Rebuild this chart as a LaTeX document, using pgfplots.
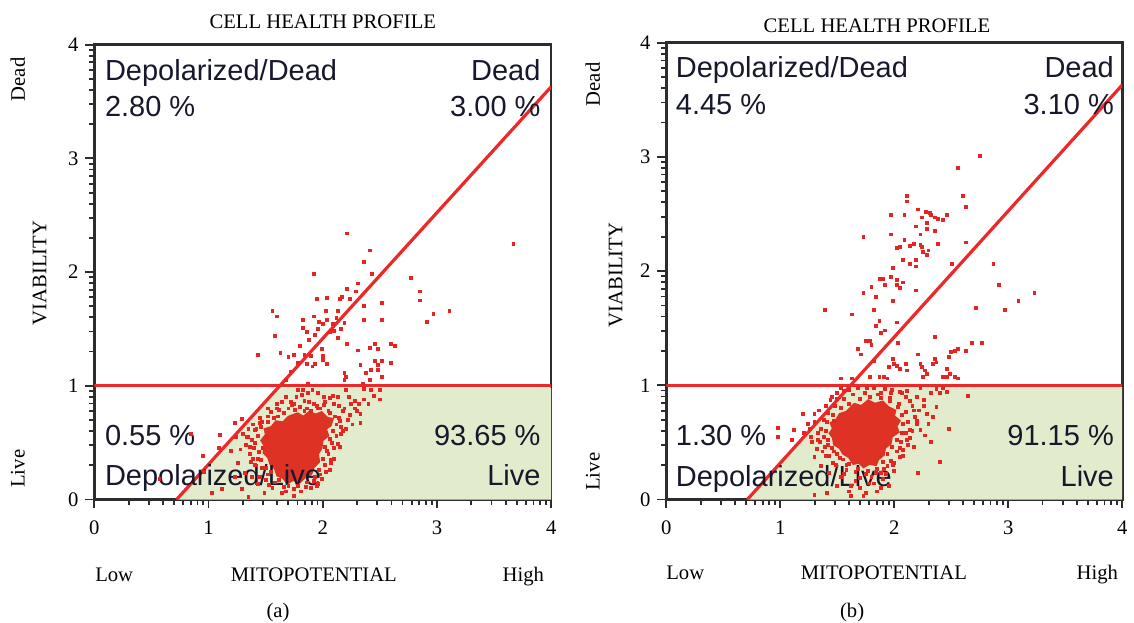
\documentclass[border=0pt]{standalone}
\usepackage{pgfplots}
\usepackage{pgfplotstable}
\pgfplotsset{compat=1.18}
\usepackage{fontspec}
\setmainfont{Liberation Serif}
\newfontfamily\qfont{Liberation Sans}
\definecolor{ptred}{RGB}{232,36,34}
\definecolor{corered}{RGB}{221,50,36}
\definecolor{linered}{RGB}{236,40,40}
\definecolor{livegreen}{RGB}{226,236,204}
\definecolor{qtext}{RGB}{24,24,44}
\definecolor{frame}{RGB}{45,45,45}

% ---------------- panel (a) data ----------------
\pgfplotstableread{
x y
2.21 2.34
2.41 2.19
2.36 2.09
1.92 1.98
2.43 1.98
2.77 1.95
2.31 1.90
2.85 1.83
2.85 1.75
2.21 1.85
2.29 1.83
2.17 1.78
2.15 1.76
1.95 1.76
2.04 1.77
2.24 1.76
2.36 1.70
2.52 1.73
1.56 1.66
1.60 1.61
2.97 1.63
3.11 1.66
2.91 1.56
1.83 1.58
1.92 1.61
1.97 1.56
2.00 1.54
2.04 1.58
2.09 1.54
2.12 1.60
2.13 1.66
2.03 1.66
1.83 1.51
1.86 1.47
1.93 1.45
1.96 1.50
2.06 1.47
2.10 1.48
2.16 1.50
2.19 1.55
2.36 1.58
2.52 1.58
1.58 1.44
2.13 1.42
2.21 1.37
2.46 1.37
2.48 1.32
2.60 1.37
2.63 1.35
2.31 1.31
2.41 1.33
1.99 1.32
1.43 1.27
1.63 1.29
1.70 1.25
1.75 1.27
1.84 1.27
1.90 1.26
2.00 1.26
2.00 1.23
1.86 1.19
1.91 1.17
1.93 1.19
2.04 1.19
2.33 1.18
2.46 1.22
2.48 1.18
2.52 1.22
2.60 1.20
2.42 1.14
2.48 1.14
2.38 1.11
2.19 1.11
2.20 1.08
2.19 1.05
2.41 1.05
2.35 1.02
2.52 1.08
1.87 1.02
3.67 2.25
1.72 1.12
1.78 1.20
1.68 1.05
1.80 1.35
1.88 1.40
0.85 0.58
0.57 0.18
1.09 0.45
0.96 0.24
1.24 0.55
0.95 0.38
1.78 0.96
1.83 0.96
1.87 0.94
1.77 0.90
1.84 0.87
1.91 0.96
2.01 0.90
2.06 0.89
2.09 0.91
2.13 0.90
2.20 0.96
2.23 0.90
2.25 0.84
2.19 0.80
2.28 0.80
2.32 0.84
2.33 0.75
2.36 0.97
2.42 0.96
2.50 0.96
2.50 0.88
2.33 0.67
2.10 0.84
2.01 0.83
1.96 0.80
1.90 0.78
1.84 0.78
1.75 0.84
1.64 0.86
1.61 0.73
1.52 0.73
1.41 0.61
1.29 0.71
1.23 0.67
1.10 0.57
1.35 0.55
1.45 0.67
1.20 0.43
1.26 0.32
1.32 0.23
1.38 0.20
1.43 0.14
1.23 0.20
1.03 0.06
1.12 0.09
1.29 0.09
1.35 0.02
1.49 0.06
1.64 0.06
1.75 0.03
1.90 0.10
1.96 0.14
2.07 0.32
2.04 0.43
2.13 0.49
2.16 0.58
1.40 0.45
1.38 0.52
1.42 0.62
1.47 0.68
1.55 0.77
1.62 0.79
1.70 0.80
1.80 0.81
1.95 0.82
2.05 0.78
2.14 0.72
2.16 0.64
2.12 0.56
2.08 0.50
2.05 0.40
2.02 0.30
1.98 0.22
1.92 0.16
1.85 0.11
1.75 0.09
1.66 0.11
1.58 0.15
1.52 0.22
1.47 0.28
1.43 0.36
1.36 0.40
1.33 0.48
1.30 0.58
1.45 0.72
1.60 0.84
1.72 0.86
1.88 0.86
2.02 0.86
2.18 0.78
2.22 0.70
2.20 0.62
2.15 0.46
2.10 0.36
2.06 0.26
1.99 0.18
1.56 0.10
1.50 0.17
1.41 0.30
1.37 0.33
1.28 0.44
1.35 0.62
1.52 0.80
1.68 0.90
1.82 0.92
1.96 0.94
1.44 0.42
1.46 0.35
1.50 0.28
1.55 0.24
1.62 0.17
1.70 0.12
1.78 0.12
1.86 0.15
1.93 0.20
1.97 0.26
2.00 0.36
2.02 0.46
2.06 0.53
2.09 0.60
2.12 0.66
2.11 0.73
2.06 0.76
1.98 0.80
1.86 0.80
1.76 0.79
1.66 0.76
1.57 0.72
1.52 0.68
1.46 0.64
1.43 0.56
1.41 0.50
1.48 0.45
1.51 0.55
1.60 0.80
1.73 0.83
1.92 0.84
2.15 0.69
2.18 0.60
2.10 0.45
2.07 0.35
2.03 0.24
1.95 0.12
1.81 0.07
1.68 0.07
1.53 0.13
1.45 0.20
1.39 0.36
1.36 0.46
1.34 0.55
1.39 0.66
2.24 0.74
2.26 0.66
2.30 0.78
2.28 0.87
2.14 0.82
2.36 0.88
2.45 0.91
2.40 0.84
}\scatA

\pgfplotstableread{
x y
1.78 0.76
1.83 0.73
1.88 0.77
1.94 0.75
1.99 0.77
2.04 0.72
2.09 0.71
2.07 0.65
2.03 0.62
2.05 0.56
2.00 0.52
1.99 0.45
1.96 0.40
1.97 0.33
1.92 0.28
1.90 0.22
1.84 0.19
1.80 0.15
1.74 0.17
1.69 0.14
1.65 0.19
1.60 0.21
1.58 0.27
1.54 0.31
1.52 0.37
1.48 0.41
1.49 0.47
1.46 0.52
1.50 0.57
1.49 0.62
1.55 0.64
1.59 0.69
1.65 0.68
1.70 0.73
1.78 0.76
}\coreA

% ---------------- panel (b) data ----------------
\pgfplotstableread{
x y
2.75 3.01
2.56 2.90
2.11 2.66
2.11 2.61
2.60 2.66
2.63 2.56
2.21 2.54
1.97 2.49
2.09 2.49
2.24 2.47
2.28 2.52
2.31 2.51
2.32 2.49
2.36 2.47
2.38 2.46
2.43 2.45
2.46 2.49
2.29 2.42
2.19 2.39
2.29 2.37
2.36 2.35
1.97 2.32
2.23 2.32
1.73 2.30
2.09 2.27
2.05 2.21
2.02 2.20
2.14 2.22
2.17 2.24
2.23 2.23
2.24 2.21
2.25 2.17
2.29 2.14
2.30 2.18
2.38 2.24
2.63 2.25
2.19 2.10
2.19 2.04
2.14 2.06
2.08 2.10
1.99 2.03
2.51 2.06
2.87 2.06
1.87 1.93
1.90 1.93
1.92 1.88
1.97 1.95
2.02 1.92
2.02 1.88
2.08 1.90
2.05 1.85
2.19 1.83
2.92 1.88
3.23 1.81
3.09 1.74
2.97 1.66
2.72 1.68
1.73 1.81
1.80 1.86
1.84 1.77
1.99 1.74
1.39 1.66
1.63 1.62
1.82 1.66
1.87 1.56
1.84 1.52
1.92 1.48
1.88 1.46
2.02 1.55
2.36 1.42
1.75 1.39
1.79 1.39
1.80 1.35
1.68 1.32
1.71 1.27
2.03 1.37
2.68 1.37
2.77 1.37
2.63 1.30
2.21 1.27
2.48 1.25
2.50 1.29
2.53 1.30
2.56 1.32
2.36 1.23
2.37 1.20
2.34 1.19
1.99 1.23
2.00 1.19
1.95 1.16
2.02 1.17
2.05 1.14
2.10 1.19
2.11 1.13
2.23 1.19
2.24 1.16
2.27 1.13
2.29 1.10
2.25 1.07
2.46 1.14
2.49 1.10
2.46 1.07
2.43 1.07
2.53 1.07
2.56 1.06
1.82 1.21
1.87 1.07
1.91 1.07
1.94 1.06
1.79 1.07
1.53 1.06
1.63 1.06
2.65 0.91
2.48 0.62
2.32 0.50
2.40 0.33
2.21 0.23
2.29 0.75
2.34 0.72
2.37 0.81
2.40 0.93
2.46 0.94
2.32 0.93
2.26 0.87
2.20 0.90
2.11 0.95
2.05 0.94
2.23 0.98
2.37 0.97
2.43 0.98
2.17 0.78
2.20 0.69
2.14 0.61
2.23 0.61
2.11 0.52
2.08 0.43
2.05 0.37
2.17 0.46
1.30 0.75
1.24 0.66
1.21 0.58
1.27 0.55
1.33 0.52
1.39 0.46
1.44 0.87
1.50 0.93
1.53 0.98
1.56 0.95
1.47 0.69
1.20 0.75
1.12 0.61
1.10 0.52
0.98 0.63
0.98 0.55
1.30 0.37
1.36 0.29
1.43 0.23
1.53 0.20
1.41 0.06
1.30 0.04
1.62 0.03
1.73 0.03
1.82 0.14
1.88 0.23
1.94 0.29
2.00 0.32
1.68 0.98
1.76 0.98
1.82 0.98
1.88 0.93
1.97 0.93
1.38 0.55
1.36 0.62
1.38 0.70
1.42 0.76
1.48 0.82
1.56 0.88
1.64 0.92
1.74 0.93
1.86 0.92
1.96 0.89
2.04 0.84
2.10 0.77
2.12 0.68
2.10 0.58
2.06 0.50
2.02 0.42
1.97 0.34
1.91 0.27
1.84 0.23
1.75 0.22
1.66 0.24
1.58 0.30
1.52 0.36
1.47 0.42
1.42 0.48
1.30 0.68
1.34 0.78
1.45 0.90
1.60 0.96
1.92 0.97
2.10 0.90
2.16 0.82
2.18 0.72
2.16 0.60
2.12 0.48
2.08 0.38
2.00 0.25
1.90 0.18
1.78 0.14
1.66 0.16
1.56 0.22
1.46 0.32
1.40 0.38
1.33 0.58
1.70 0.10
1.60 0.07
1.85 0.07
1.50 0.12
1.95 0.12
1.42 0.52
1.45 0.45
1.50 0.40
1.55 0.35
1.60 0.31
1.68 0.27
1.77 0.25
1.85 0.27
1.90 0.33
1.94 0.40
1.98 0.46
2.02 0.52
2.07 0.58
2.08 0.66
2.07 0.74
2.03 0.81
1.96 0.86
1.88 0.89
1.79 0.90
1.70 0.88
1.60 0.84
1.53 0.80
1.46 0.74
1.41 0.68
1.40 0.60
1.35 0.50
1.32 0.44
1.37 0.42
1.43 0.38
1.49 0.30
1.58 0.26
1.70 0.19
1.80 0.20
1.93 0.22
1.99 0.30
2.05 0.45
2.14 0.54
2.20 0.66
2.22 0.78
2.14 0.86
2.07 0.93
1.98 0.96
2.26 0.82
2.30 0.66
2.27 0.56
1.50 0.88
1.40 0.82
1.26 0.62
1.28 0.50
1.62 0.12
1.75 0.06
1.88 0.10
}\scatB

\pgfplotstableread{
x y
1.65 0.84
1.71 0.82
1.77 0.87
1.83 0.84
1.90 0.86
1.95 0.81
2.01 0.78
2.00 0.73
2.05 0.69
2.02 0.64
2.04 0.59
1.98 0.55
1.97 0.49
1.92 0.45
1.91 0.39
1.86 0.35
1.84 0.30
1.78 0.31
1.73 0.28
1.69 0.32
1.64 0.31
1.60 0.37
1.55 0.40
1.52 0.45
1.47 0.48
1.46 0.54
1.43 0.58
1.46 0.62
1.44 0.67
1.49 0.70
1.52 0.75
1.58 0.77
1.65 0.84
}\coreB

\pgfplotsset{
  cellplot/.style={
    scale only axis,
    xmin=0, xmax=4, ymin=0, ymax=4,
    xtick={0,1,2,3,4}, ytick={0,1,2,3,4},
    minor xtick={0.301,0.477,0.602,0.699,0.778,0.845,0.903,0.954,
                 1.301,1.477,1.602,1.699,1.778,1.845,1.903,1.954,
                 2.301,2.477,2.602,2.699,2.778,2.845,2.903,2.954,
                 3.301,3.477,3.602,3.699,3.778,3.845,3.903,3.954},
    minor ytick={0.301,0.477,0.602,0.699,0.778,0.845,0.903,0.954,
                 1.301,1.477,1.602,1.699,1.778,1.845,1.903,1.954,
                 2.301,2.477,2.602,2.699,2.778,2.845,2.903,2.954,
                 3.301,3.477,3.602,3.699,3.778,3.845,3.903,3.954},
    xtick pos=left, ytick pos=left,
    tick align=outside,
    major tick length=4.5pt, minor tick length=2.6pt,
    every tick/.style={frame, line width=0.9pt},
    axis line style={frame, line width=1.3pt},
    /pgf/number format/assume math mode=true,
    ticklabel style={font=\fontsize{10.4}{12}\selectfont, text=black},
    xticklabel style={yshift=-2.5pt},
    clip=true,
  },
  pts/.style={only marks, mark=square*, mark size=0.72pt, color=ptred,
    mark options={solid, draw=ptred, fill=ptred, line width=0pt}},
}
\tikzset{
  qlab/.style={inner sep=0pt, text=qtext, font=\fontsize{14.6}{17}\qfont},
  lab/.style={font=\fontsize{10.4}{12}\selectfont, inner sep=0pt},
}

\begin{document}
\begin{tikzpicture}

% ================= panel (a) =================
\begin{axis}[cellplot, width=230pt, height=229pt,
  at={(47.5pt,60.5pt)}, anchor=south west]
\addplot[draw=none, fill=livegreen] coordinates {(0.72,0) (1.629,0.985) (4,0.985) (4,0) (0.72,0)};
\addplot[pts] table[x=x,y=y] {\scatA};
\addplot[draw=corered, fill=corered, line width=0.8pt] table[x=x,y=y] {\coreA};
\addplot[linered, line width=1.6pt] coordinates {(0.72,0) (4,3.63)};
\addplot[linered, line width=1.6pt] coordinates {(0,1) (4,1)};
\node[qlab, anchor=north west] at (axis cs:0.09,3.87) {Depolarized/Dead};
\node[qlab, anchor=north west] at (axis cs:0.09,3.55) {2.80 \%};
\node[qlab, anchor=north east] at (axis cs:3.91,3.87) {Dead};
\node[qlab, anchor=north east] at (axis cs:3.91,3.55) {3.00 \%};
\node[qlab, anchor=north west] at (axis cs:0.09,0.655) {0.55 \%};
\node[qlab, anchor=north west] at (axis cs:0.09,0.31) {Depolarized/Live};
\node[qlab, anchor=north east] at (axis cs:3.91,0.655) {93.65 \%};
\node[qlab, anchor=north east] at (axis cs:3.91,0.31) {Live};
\end{axis}

% ================= panel (b) =================
\begin{axis}[cellplot, width=229.5pt, height=230pt,
  at={(335.5pt,60.5pt)}, anchor=south west]
\addplot[draw=none, fill=livegreen] coordinates {(0.71,0) (1.605,0.985) (4,0.985) (4,0) (0.71,0)};
\addplot[pts] table[x=x,y=y] {\scatB};
\addplot[draw=corered, fill=corered, line width=0.8pt] table[x=x,y=y] {\coreB};
\addplot[linered, line width=1.6pt] coordinates {(0.71,0) (4,3.63)};
\addplot[linered, line width=1.6pt] coordinates {(0,1) (4,1)};
\node[qlab, anchor=north west] at (axis cs:0.08,3.88) {Depolarized/Dead};
\node[qlab, anchor=north west] at (axis cs:0.08,3.55) {4.45 \%};
\node[qlab, anchor=north east] at (axis cs:3.93,3.88) {Dead};
\node[qlab, anchor=north east] at (axis cs:3.93,3.55) {3.10 \%};
\node[qlab, anchor=north west] at (axis cs:0.08,0.65) {1.30 \%};
\node[qlab, anchor=north west] at (axis cs:0.08,0.30) {Depolarized/Live};
\node[qlab, anchor=north east] at (axis cs:3.93,0.65) {91.15 \%};
\node[qlab, anchor=north east] at (axis cs:3.93,0.30) {Live};
\end{axis}

% ---------- outer texts (a) ----------
\node[lab, anchor=base] at (162.5pt,297.5pt) {CELL HEALTH PROFILE};
\node[lab, rotate=90] at (9pt,272pt) {Dead};
\node[lab, rotate=90] at (20pt,174.5pt) {VIABILITY};
\node[lab, rotate=90] at (9pt,76pt) {Live};
\node[lab, anchor=base] at (57.5pt,19pt) {Low};
\node[lab, anchor=base] at (158pt,19pt) {MITOPOTENTIAL};
\node[lab, anchor=base] at (263.5pt,19pt) {High};
\node[lab, anchor=base] at (140pt,1pt) {(a)};
% ---------- outer texts (b) ----------
\node[lab, anchor=base] at (441.5pt,295.5pt) {CELL HEALTH PROFILE};
\node[lab, rotate=90] at (298.5pt,269.5pt) {Dead};
\node[lab, rotate=90] at (310pt,173.5pt) {VIABILITY};
\node[lab, rotate=90] at (298.5pt,74.5pt) {Live};
\node[lab, anchor=base] at (345pt,20pt) {Low};
\node[lab, anchor=base] at (445pt,20pt) {MITOPOTENTIAL};
\node[lab, anchor=base] at (552.5pt,20pt) {High};
\node[lab, anchor=base] at (429pt,1pt) {(b)};

\path[use as bounding box] (0pt,0pt) rectangle (567pt,312pt);
\end{tikzpicture}
\end{document}
